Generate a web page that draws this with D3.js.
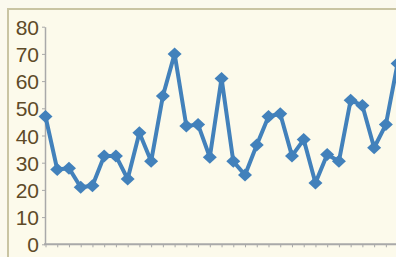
<!DOCTYPE html>
<html>
<head>
<meta charset="utf-8">
<script src="https://cdn.jsdelivr.net/npm/d3@7"></script>
<style>
  html, body { margin: 0; padding: 0; background: #fbf9ee; overflow: hidden; }
  svg { display: block; }
</style>
</head>
<body>
<svg id="chart" width="396" height="257"></svg>
<script>
const categories = d3.range(1, 32).map(String);
const values = [47, 27.5, 28, 21, 21.5, 32.5, 32.5, 24, 41, 30.5, 54.5, 70, 43.5, 44, 32, 61, 30.5, 25.5, 36.5, 47, 48, 32.5, 38.5, 22.5, 33, 30.5, 53, 51, 35.5, 44, 66.5];
const yTicks = [0, 10, 20, 30, 40, 50, 60, 70, 80];

const svg = d3.select("#chart");
const W = 396, H = 257;

// panel background and border
svg.append("rect").attr("x", 0).attr("y", 0).attr("width", W).attr("height", H).attr("fill", "#fbf9ee");
svg.append("rect").attr("x", 8).attr("y", 9).attr("width", W + 20).attr("height", H + 20)
  .attr("fill", "#fcfaeb").attr("stroke", "#c9c4a3").attr("stroke-width", 2);

const x = d3.scalePoint().domain(categories).range([45.5, 397.6]);
const y = d3.scaleLinear().domain([0, 80]).range([244.3, 26.7]);

const textColor = "#5e4a28";
const axisColor = "#a9a9a9";

// y axis
const gy = svg.append("g").attr("transform", "translate(45,0)")
  .call(d3.axisLeft(y).tickValues(yTicks).tickSize(3).tickSizeOuter(0).tickPadding(3));
gy.select(".domain").attr("stroke", axisColor).attr("stroke-width", 1.5);
gy.selectAll(".tick line").attr("stroke", axisColor);
gy.selectAll(".tick text").attr("fill", textColor)
  .attr("font-family", "Liberation Sans, Arial, sans-serif").attr("font-size", 21).attr("dy", "0.36em");

// x axis
const gx = svg.append("g").attr("transform", "translate(0,244.3)")
  .call(d3.axisBottom(x).tickSize(3).tickSizeOuter(0).tickFormat(""));
gx.select(".domain").attr("stroke", axisColor).attr("stroke-width", 2)
  .attr("d", `M44,0H${W + 10}`);
gx.selectAll(".tick line").attr("stroke", axisColor);

// line
const color = "#4281bb";
const line = d3.line().x((d, i) => x(categories[i])).y(d => y(d));
svg.append("path").datum(values).attr("d", line)
  .attr("fill", "none").attr("stroke", color).attr("stroke-width", 4).attr("stroke-linejoin", "round");

// diamond markers
const hw = 7, hh = 6.5;
svg.append("g").selectAll("path").data(values).join("path")
  .attr("transform", (d, i) => `translate(${x(categories[i])},${y(d)})`)
  .attr("d", `M0,${-hh}L${hw},0L0,${hh}L${-hw},0Z`)
  .attr("fill", color);
</script>
</body>
</html>
